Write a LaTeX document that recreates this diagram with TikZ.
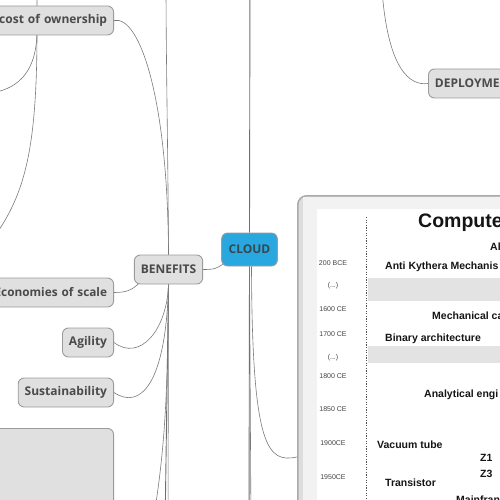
\documentclass[tikz,border=0pt]{standalone}
\usepackage{fontspec}
\usetikzlibrary{positioning,calc,backgrounds}
\newfontfamily\mapfont{Open Sans}
\newfontfamily\tlfont{Liberation Sans}
\definecolor{nodefill}{HTML}{E0E0E0}
\definecolor{nodeline}{HTML}{9B9B9B}
\definecolor{nodetext}{HTML}{4A4A4A}
\definecolor{cloudblue}{HTML}{29A8E0}
\definecolor{cloudtext}{HTML}{37474F}
\definecolor{linkgray}{HTML}{7A7A7A}
\definecolor{framegray}{HTML}{DDDDDD}
\definecolor{marginwhite}{HTML}{F2F2F2}
\definecolor{bandgray}{HTML}{E3E3E3}
\definecolor{tlink}{HTML}{151515}
\tikzset{
  topic/.style={draw=nodeline, fill=nodefill, line width=0.9pt, rounded corners=6pt,
    font={\mapfont\bfseries\fontsize{12}{14}\selectfont}, text=nodetext,
    inner xsep=6.5pt, inner ysep=0pt, minimum height=29pt},
  centre/.style={topic, fill=cloudblue, text=cloudtext, minimum height=33pt, inner xsep=7pt},
  link/.style={draw=linkgray, line width=0.6pt},
  trunk/.style={link, line width=0.9pt, draw=linkgray!90!black},
  tlframe/.style={draw=nodeline!85, fill=framegray, line width=1.5pt, rounded corners=9pt},
  yearlbl/.style={font={\tlfont\fontsize{7}{8}\selectfont}, text=tlink!80},
  eventlbl/.style={font={\tlfont\bfseries\fontsize{10.5}{12}\selectfont}, text=tlink, anchor=base west, inner sep=0pt}
}

\begin{document}
\begin{tikzpicture}[x=1pt, y=-1pt]
\useasboundingbox (0,0) rectangle (500,500);
\clip (0,0) rectangle (500,500);
% main topic and its branches
\node[centre] (cloud) at (249.5,249.5) {CLOUD};
\node[topic] (benefits) at (168.5,269.5) {BENEFITS};
\node[topic, anchor=east, text width=130pt, align=right] (cost) at (114,20.5) {cost of ownership};
\node[topic, anchor=east, text width=125pt, align=right, font={\mapfont\bfseries\fontsize{11.8}{14}\selectfont}] (economies) at (114,292.5) {Economies of scale};
\node[topic, anchor=east] (agility) at (114,342.5) {Agility};
\node[topic, anchor=east] (sustain) at (114,392.5) {Sustainability};
\node[topic, anchor=north east, minimum width=130pt, minimum height=90pt] (picbox) at (114,428) {};
\node[topic, anchor=west, text width=90pt, align=left] (deploy) at (428,83.5) {DEPLOYME};
% timeline picture
\node[tlframe, anchor=north west, minimum width=240pt, minimum height=340pt] (timeline) at (297,195) {};
\fill[marginwhite] (303,197) rectangle (510,510);
\fill[white] (317,209) rectangle (510,510);
\fill[bandgray] (368,278) rectangle (510,301);
\fill[bandgray] (368,346) rectangle (510,363);
\draw[tlink!75, line width=1pt, dash pattern=on 1.2pt off 1.4pt] (366,217) -- (366,510);
\node[eventlbl, font={\tlfont\bfseries\fontsize{19.5}{22}\selectfont}] (title) at (418,227) {Computer};
\foreach \yr/\yy [count=\i] in {200 BCE/263, {(...)}/286, 1600 CE/309, 1700 CE/334, {(...)}/358,
    1800 CE/376, 1850 CE/409, 1900CE/443, 1950CE/477}
  \node[yearlbl] (year\i) at (333,\yy) {\yr};
\foreach \ev/\xx/\yy [count=\i] in {Al/490/250, Anti Kythera Mechanis/385/269, Mechanical ca/432/319,
    Binary architecture/385/341, Analytical engi/424/397, Vacuum tube/377/448, Z1/480/461,
    Z3/480/477, Transistor/385/486, Mainfran/456/503}
  \node[eventlbl] (event\i) at (\xx,\yy) {\ev};
% free ends of connectors leaving the frame
\coordinate (cloudup) at (250,-30);
\coordinate (clouddown1) at (249,530);
\coordinate (clouddown2) at (251,530);
\coordinate (deployup) at (382,-10);
\coordinate (benefitsup) at (166,-20);
\coordinate (benefitsdown1) at (165,530);
\coordinate (benefitsdown2) at (168,530);
\coordinate (benefitsdown3) at (150,540);
\coordinate (leftup) at (37,-20);
\coordinate (leftfork) at (37,30);
\coordinate (leftchild1) at (-8,93);
\coordinate (leftchild2) at (-8,240);
\begin{scope}[on background layer]
  \draw[trunk] (cloud.north) -- (cloudup);
  \draw[trunk] (cloud.south) -- (clouddown1);
  \draw[link] (cloud.south) -- (clouddown2);
  \draw[link] ([xshift=2pt]cloud.south) .. controls (252,450) and (268,463) .. ($(timeline.north west)+(0,262)$);
  \draw[link] ([shift={(3,-3)}]cloud.south west) .. controls +(-8,5) and +(12,0) .. (benefits.east);
  \draw[link] (deployup) .. controls (388,70) and (410,86) .. (deploy.west);
  % benefits
  \draw[link] (benefits.north) .. controls (168,100) and (140,15) .. (cost.east);
  \draw[link] (benefits.north) .. controls (168,150) and (166,60) .. (benefitsup);
  \draw[link] ([shift={(6,-2)}]benefits.south west) .. controls +(-8,8) and +(12,0) .. (economies.east);
  \draw[link] (benefits.south) .. controls (167,330) and (140,362) .. (agility.east);
  \draw[link] (benefits.south) .. controls (166,385) and (140,410) .. (sustain.east);
  \draw[trunk] (benefits.south) -- (benefitsdown1);
  \draw[link] (benefits.south) -- (benefitsdown2);
  \draw[link] (benefits.south) .. controls (168,420) and (162,470) .. (benefitsdown3);
  % branch above the frame
  \draw[link] (leftup) -- (leftfork) .. controls (37,70) and (20,88) .. (leftchild1);
  \draw[link] (leftfork) .. controls (37,150) and (25,195) .. (leftchild2);
\end{scope}
\end{tikzpicture}
\end{document}
